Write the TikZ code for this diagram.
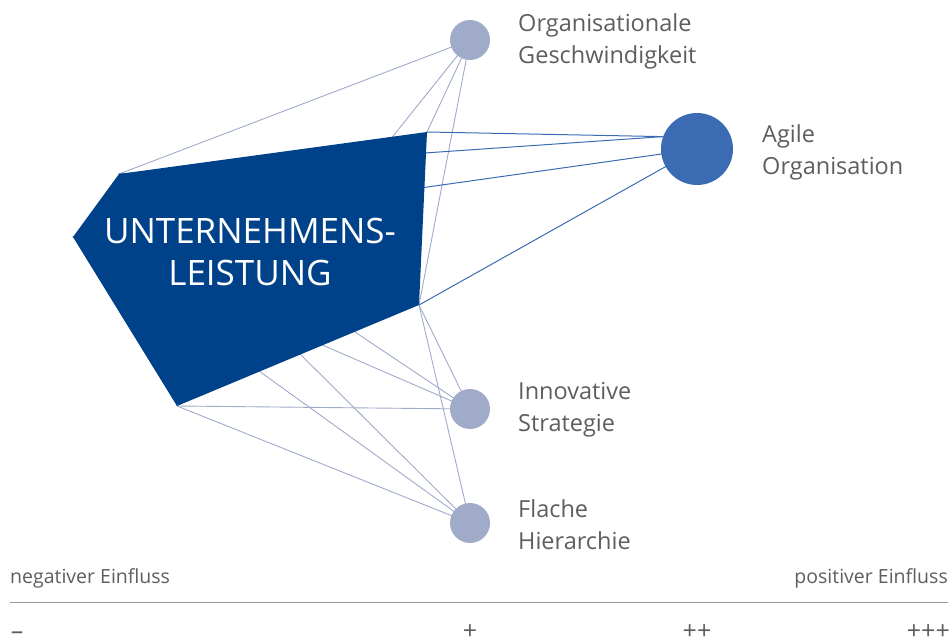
\documentclass[tikz,border=0pt]{standalone}
\usepackage{fontspec}
\setmainfont{Open Sans}
\usepackage{tikz}
\definecolor{dunkelblau}{HTML}{00428A}
\definecolor{mittelblau}{HTML}{3B6CB3}
\definecolor{hellblau}{HTML}{A0ABC9}
\definecolor{textgrau}{HTML}{5E5E5E}

\begin{document}
\begin{tikzpicture}[line cap=round,line join=round,x=1pt,y=-1pt,
  klein/.style={circle,fill=hellblau,inner sep=0pt,minimum size=40pt},
  gross/.style={circle,fill=mittelblau,inner sep=0pt,minimum size=72pt},
  duenn/.style={draw=hellblau,line width=0.9pt},
  mittel/.style={draw=mittelblau,line width=1pt},
  beschr/.style={anchor=west,align=left,inner sep=0pt,text=textgrau,font=\fontsize{23.5}{32}\selectfont},
  skala/.style={inner sep=0pt,text=textgrau,font=\fontsize{19.5}{22}\selectfont},
  zeichen/.style={inner sep=0pt,text depth=0pt,anchor=base,text=textgrau,font=\fontsize{25}{27}\selectfont}]
\useasboundingbox (0,0) rectangle (952,644);
% Ecken
\coordinate (L) at (73,237);
\coordinate (UL) at (119,174);
\coordinate (TR) at (427,132);
\coordinate (LR) at (419,305);
\coordinate (B) at (177,406);
% Kreise
\node[klein] (org) at (470,40) {};
\node[gross] (agile) at (697,149) {};
\node[klein] (inno) at (470,409) {};
\node[klein] (flach) at (470,523) {};
% Verbindungen
\draw[duenn] (org.center)-- (UL);
\draw[duenn] (org.center)-- (B);
\draw[duenn] (org.center)-- (TR);
\draw[duenn] (org.center)-- (LR);
\draw[mittel] (agile.160)-- (TR);
\draw[mittel] (agile.160)-- (UL);
\draw[mittel] (agile.center)-- (L);
\draw[mittel] (agile.center)-- (LR);
\draw[duenn] (inno.center)-- (B);
\draw[duenn] (inno.center)-- (UL);
\draw[duenn] (inno.center)-- (L);
\draw[duenn] (inno.center)-- (LR);
\draw[duenn] (flach.center)-- (B);
\draw[duenn] (flach.center)-- (UL);
\draw[duenn] (flach.center)-- (L);
\draw[duenn] (flach.center)-- (LR);
% Fuenfeck
\fill[dunkelblau] (L)-- (UL)-- (TR)-- (LR)-- (B)-- cycle;
\node[align=center,inner sep=0pt,text=white,font=\fontsize{35}{42}\selectfont] (titel) at (250,252) {UNTERNEHMENS-\\LEISTUNG};
% Beschriftungen
\node[beschr] (orgtext) at (518,41) {Organisationale\\Geschwindigkeit};
\node[beschr] (agiletext) at (762,152) {Agile\\Organisation};
\node[beschr] (innotext) at (518,410) {Innovative\\Strategie};
\node[beschr] (flachtext) at (518,525) {Flache\\Hierarchie};
% Skala
\node[skala,anchor=west] (neg) at (10,578) {negativer Einfluss};
\node[skala,anchor=east] (pos) at (948,578) {positiver Einfluss};
\draw[draw=gray!80,line width=0.9pt] (10,602)-- (948,602);
\node[zeichen] (s0) at (17,639) {–};
\node[zeichen] (s1) at (470,639) {+};
\node[zeichen] (s2) at (697,639) {++};
\node[zeichen,anchor=base east] (s3) at (950,639) {+++};
\end{tikzpicture}
\end{document}
